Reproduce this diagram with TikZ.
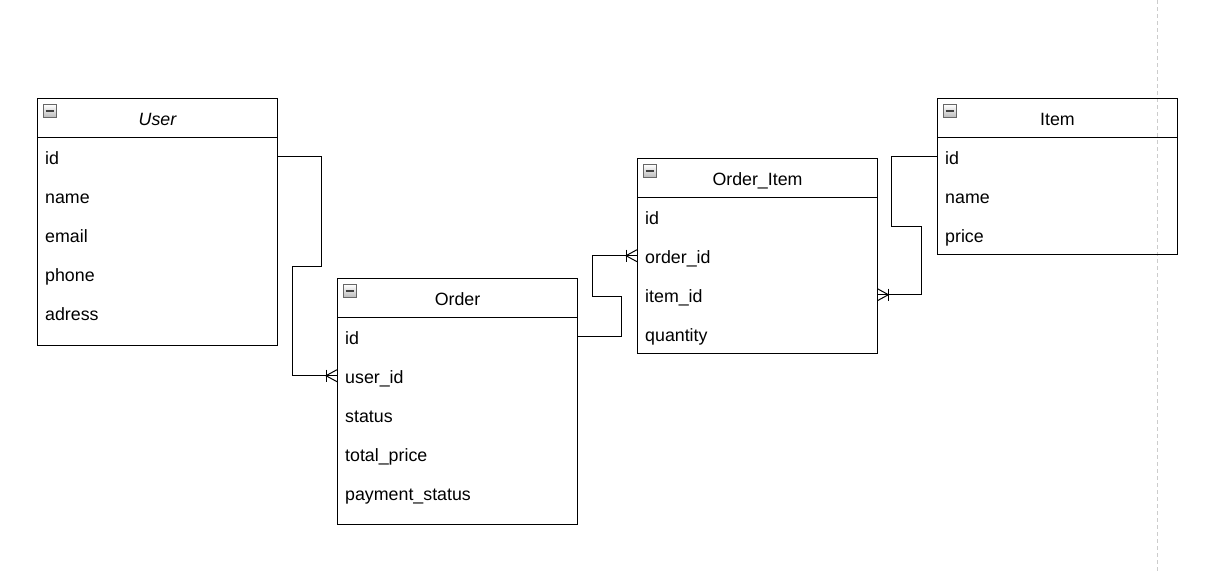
\documentclass[tikz,border=0pt]{standalone}
\usepackage{fontspec}
\setmainfont{Liberation Sans}
\begin{document}
\begin{tikzpicture}[x=1pt,y=-1pt,
  tbl/.style={draw, line width=1pt, minimum width=240pt, anchor=north west, inner sep=0pt},
  hdr/.style={draw, line width=1pt, minimum width=240pt, minimum height=39pt, anchor=north west, inner sep=0pt, text height=18pt, text depth=3pt, font=\fontsize{17.8pt}{20pt}\selectfont},
  row/.style={anchor=north west, minimum height=39pt, text width=224pt, inner xsep=8pt, inner ysep=0pt, text height=18pt, text depth=3pt, align=left, font=\fontsize{17.8pt}{20pt}\selectfont},
  conn/.style={line width=1pt},
  icon/.pic={
    \draw[gray!80!black, line width=0.6pt, top color=white, bottom color=gray!55] (0,0) rectangle (13,13);
    \draw[black!75, line width=1.8pt] (2.5,6.5) -- (10.5,6.5);
  },
  crow/.pic={
    \draw[line width=1pt] (0,-6) -- (-11,0) -- (0,6);
    \draw[line width=1pt] (-11,-6) -- (-11,6);
  }
]
\useasboundingbox (0,0) rectangle (1215,571);
\draw[gray!40, line width=1pt, dash pattern=on 4pt off 3pt] (1157,0) -- (1157,571);

% User
\node[tbl, minimum height=247pt] (user) at (37,98) {};
\node[hdr] (user-h) at (37,98) {\itshape User};
\pic at (43,104.5) {icon};
\node[row] (user-id) at (37,137) {id};
\node[row] (user-name) at (37,176) {name};
\node[row] (user-email) at (37,215) {email};
\node[row] (user-phone) at (37,254) {phone};
\node[row] (user-adress) at (37,293) {adress};

% Order
\node[tbl, minimum height=246pt] (order) at (337,278) {};
\node[hdr] (order-h) at (337,278) {Order};
\pic at (343,284.5) {icon};
\node[row] (order-id) at (337,317) {id};
\node[row] (order-userid) at (337,356) {user\_id};
\node[row] (order-status) at (337,395) {status};
\node[row] (order-total) at (337,434) {total\_price};
\node[row] (order-pay) at (337,473) {payment\_status};

% Order_Item
\node[tbl, minimum height=195pt] (oi) at (637,158) {};
\node[hdr] (oi-h) at (637,158) {Order\_Item};
\pic at (643,164.5) {icon};
\node[row] (oi-id) at (637,197) {id};
\node[row] (oi-orderid) at (637,236) {order\_id};
\node[row] (oi-itemid) at (637,275) {item\_id};
\node[row] (oi-qty) at (637,314) {quantity};

% Item
\node[tbl, minimum height=156pt] (item) at (937,98) {};
\node[hdr] (item-h) at (937,98) {Item};
\pic at (943,104.5) {icon};
\node[row] (item-id) at (937,137) {id};
\node[row] (item-name) at (937,176) {name};
\node[row] (item-price) at (937,215) {price};

% connectors
\coordinate (a1) at (321,266);
\coordinate (a2) at (292,266);
\draw[conn] (user-id.east) -| (a1) -- (a2) |- (order-userid.west);
\pic at (order-userid.west) {crow};

\coordinate (b1) at (621,296);
\coordinate (b2) at (592,296);
\draw[conn] (order-id.east) -| (b1) -- (b2) |- (oi-orderid.west);
\pic at (oi-orderid.west) {crow};

\coordinate (c1) at (891,226);
\coordinate (c2) at (921,226);
\draw[conn] (item-id.west) -| (c1) -- (c2) |- (oi-itemid.east);
\pic[xscale=-1] at (oi-itemid.east) {crow};
\end{tikzpicture}
\end{document}
